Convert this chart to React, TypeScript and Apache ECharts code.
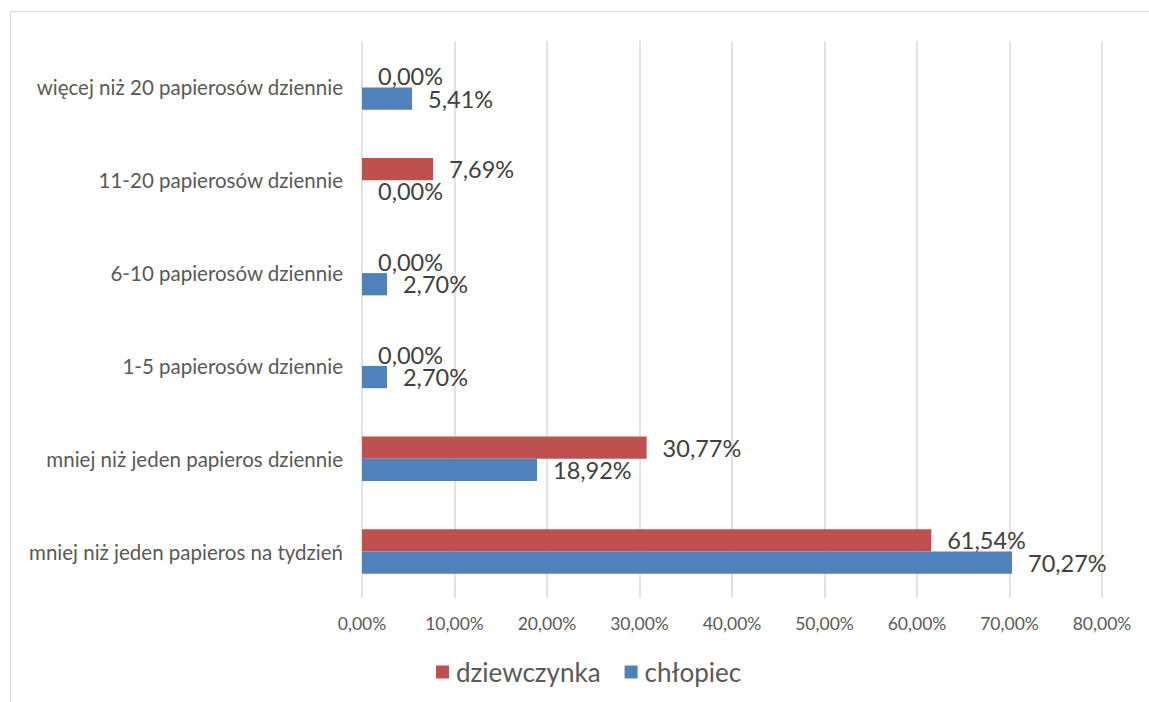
import React, { useEffect, useRef } from "react";
import * as echarts from "echarts";

const categories = [
  "mniej niż jeden papieros na tydzień",
  "mniej niż jeden papieros dziennie",
  "1-5 papierosów dziennie",
  "6-10 papierosów dziennie",
  "11-20 papierosów dziennie",
  "więcej niż 20 papierosów dziennie",
];
const girls = [61.54, 30.77, 0, 0, 7.69, 0];
const boys = [70.27, 18.92, 2.7, 2.7, 0, 5.41];
const seriesNames = ["dziewczynka", "chłopiec"];
const xTicks = { min: 0, max: 80, interval: 10 };

const FONT = "Lato";
const TEXT = "#595959";
const fmt = (v: number) => v.toFixed(2).replace(".", ",") + "%";

export default function App() {
  const ref = useRef<HTMLDivElement>(null);
  useEffect(() => {
    if (!ref.current) return;
    const chart = echarts.init(ref.current, undefined, { renderer: "svg" });
    const label = {
      show: true,
      position: "right",
      distance: 16,
      color: "#404040",
      fontFamily: FONT,
      fontSize: 23.5,
      formatter: (p: any) => fmt(p.value),
    };
    chart.setOption({
      animation: false,
      textStyle: { fontFamily: FONT },
      graphic: [
        {
          type: "rect",
          shape: { x: 10.5, y: 11.5, width: 1400, height: 1000 },
          style: { fill: "none", stroke: "#D9D9D9", lineWidth: 1 },
          silent: true,
        },
      ],
      grid: { left: 362, right: 47, top: 41, bottom: 104, containLabel: false },
      legend: {
        data: seriesNames,
        left: 431,
        top: 654,
        itemWidth: 13,
        itemHeight: 13,
        itemGap: 24,
        icon: "rect",
        textStyle: { color: TEXT, fontFamily: FONT, fontSize: 26, padding: [0, 0, 0, 2] },
      },
      xAxis: {
        type: "value",
        min: xTicks.min,
        max: xTicks.max,
        interval: xTicks.interval,
        axisLine: { show: false },
        axisTick: { show: false },
        axisLabel: {
          color: TEXT,
          fontFamily: FONT,
          fontSize: 17.5,
          margin: 16,
          formatter: (v: number) => fmt(v),
        },
        splitLine: { show: true, lineStyle: { color: "#D9D9D9", width: 1.5 } },
      },
      yAxis: {
        type: "category",
        data: categories,
        axisLine: { show: false },
        axisTick: { show: false },
        axisLabel: { color: TEXT, fontFamily: FONT, fontSize: 20.5, margin: 19 },
      },
      series: [
        {
          name: seriesNames[0],
          type: "bar",
          data: girls,
          barGap: "0%",
          barCategoryGap: "52%",
          itemStyle: { color: "#C0504D" },
          label,
        },
        {
          name: seriesNames[1],
          type: "bar",
          data: boys,
          barGap: "0%",
          barCategoryGap: "52%",
          itemStyle: { color: "#4F81BD" },
          label,
        },
      ],
    });
    return () => chart.dispose();
  }, []);
  return (
    <div
      ref={ref}
      style={{ position: "absolute", left: 0, top: 0, width: 1149, height: 702, background: "#fff" }}
    />
  );
}
